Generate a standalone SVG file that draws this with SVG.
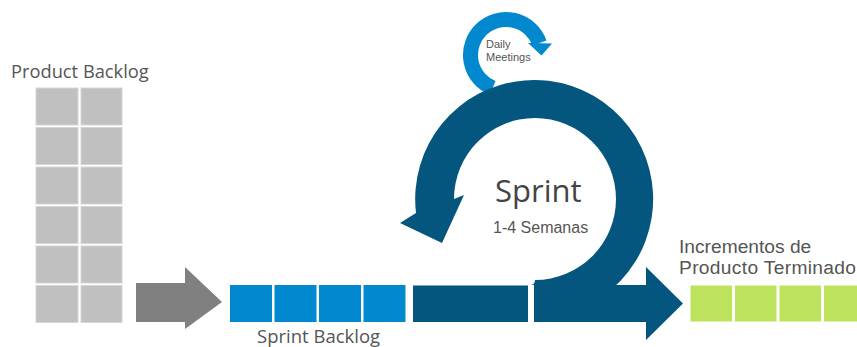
<svg xmlns="http://www.w3.org/2000/svg" width="857" height="347" viewBox="0 0 857 347">
<style>
.gc{fill:#c0c0c0;stroke:#d6d6d6;stroke-width:1}
.bc{fill:#0288cf}
.grc{fill:#bde35d}
.dk{fill:#04567f}
.lbl{font-family:"Open Sans","Noto Sans",sans-serif;fill:#555}
.ar{font-family:"Liberation Sans",Arial,sans-serif;fill:#555}
</style>
<rect width="857" height="347" fill="#fff"/>
<g id="product-backlog">
<text class="lbl" x="11" y="78" font-size="18.3">Product Backlog</text>
<rect class="gc" x="36" y="88" width="42" height="37"/><rect class="gc" x="81" y="88" width="41" height="37"/>
<rect class="gc" x="36" y="127.5" width="42" height="37"/><rect class="gc" x="81" y="127.5" width="41" height="37"/>
<rect class="gc" x="36" y="167" width="42" height="37"/><rect class="gc" x="81" y="167" width="41" height="37"/>
<rect class="gc" x="36" y="206.5" width="42" height="37"/><rect class="gc" x="81" y="206.5" width="41" height="37"/>
<rect class="gc" x="36" y="246" width="42" height="37"/><rect class="gc" x="81" y="246" width="41" height="37"/>
<rect class="gc" x="36" y="285.5" width="42" height="37"/><rect class="gc" x="81" y="285.5" width="41" height="37"/>
</g>
<g id="connectors">
<path id="gray-arrow" fill="#808080" d="M136,283 H185 V267 L222,302 L185,329 V322 H136 Z"/>
</g>
<g id="sprint-backlog">
<rect class="bc" x="230" y="285" width="42" height="37"/>
<rect class="bc" x="274.5" y="285" width="42" height="37"/>
<rect class="bc" x="319" y="285" width="42" height="37"/>
<rect class="bc" x="363.5" y="285" width="42" height="37"/>
<rect class="dk" x="413" y="285.5" width="115" height="36.5"/>
<text class="lbl" x="257" y="343" font-size="18.5">Sprint Backlog</text>
</g>
<g id="daily-meetings">
<path d="M539.4,43 A35.5,35.5 0 1 0 492.7,87.9" fill="none" stroke="#0288cf" stroke-width="15"/>
<polygon fill="#0288cf" points="528,43 552,43.5 541.5,55.5"/>
<text class="ar" x="486" y="48" font-size="11">Daily</text>
<text class="ar" x="486" y="61" font-size="11">Meetings</text>
</g>
<g id="sprint">
<path class="dk" d="M416,213 L400,223 L442,243 L464,195 L454,199 A81,81 0 1 1 535,280 Q535,285 530,285 L535,285 L535,318 A119,119 0 1 0 416,213 Z"/>
<path class="dk" d="M534,285 H646 V267 L683,303.5 L646,340 V322 H534 Z"/>
<text x="495" y="202" font-size="31" font-family="Open Sans,Noto Sans,sans-serif" fill="#444">Sprint</text>
<text class="ar" x="493" y="233" font-size="16">1-4 Semanas</text>
</g>
<g id="incrementos">
<text class="ar" x="679" y="253" font-size="19.2">Incrementos de</text>
<text class="ar" x="679" y="274" font-size="19.2" textLength="177" lengthAdjust="spacing">Producto Terminado</text>
<rect class="grc" x="690.5" y="285.5" width="41.5" height="36"/>
<rect class="grc" x="735" y="285.5" width="41.5" height="36"/>
<rect class="grc" x="779.5" y="285.5" width="41.5" height="36"/>
<rect class="grc" x="824" y="285.5" width="41.5" height="36"/>
</g>
</svg>
